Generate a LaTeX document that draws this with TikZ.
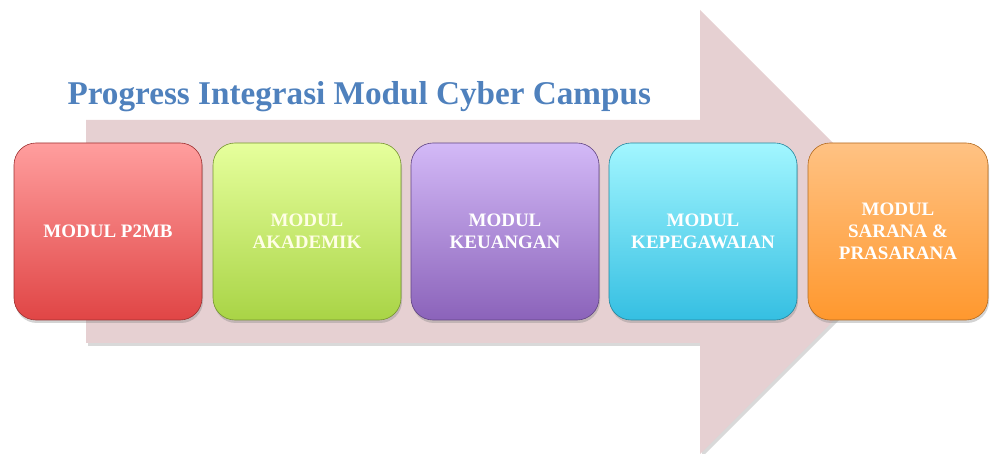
\documentclass[tikz,border=0pt]{standalone}
\usepackage{fontspec}
\setmainfont{Liberation Serif}
\usetikzlibrary{shadows}

\definecolor{arrowpink}{HTML}{E6D0D2}
\definecolor{titleblue}{HTML}{4F81BD}
\definecolor{redtop}{HTML}{FF9E9E}
\definecolor{redbot}{HTML}{E04545}
\definecolor{greentop}{HTML}{E6FF9C}
\definecolor{greenbot}{HTML}{A9D446}
\definecolor{violettop}{HTML}{D3B9F7}
\definecolor{violetbot}{HTML}{8B63BA}
\definecolor{cyantop}{HTML}{A2F6FF}
\definecolor{cyanbot}{HTML}{35BFE2}
\definecolor{orangetop}{HTML}{FFC283}
\definecolor{orangebot}{HTML}{FF982E}

\tikzset{
  modul/.style = {rounded corners = 22pt, minimum width = 188pt, minimum height = 177pt,
    top color = #1top, bottom color = #1bot, draw = #1bot!70!black, line width = 0.6pt,
    align = center, text = white,
    font = \fontsize{19}{22}\selectfont\bfseries,
    drop shadow = {opacity = 0.35, shadow xshift = 1pt, shadow yshift = -3pt}}
}

\begin{document}
\begin{tikzpicture}[x = 1pt, y = -1pt]
\useasboundingbox (0, 0) rectangle (991, 454);

% big arrow behind the modules
\fill [arrowpink, drop shadow = {opacity = 0.3, shadow xshift = 2pt, shadow yshift = -3pt}]
  (86, 120) -- (700, 120) -- (700, 10) -- (922, 232) -- (700, 454) -- (700, 343) -- (86, 343) -- cycle;

\node [anchor = base west, text = titleblue, font = \fontsize{33.2}{39}\selectfont\bfseries]
  (judul) at (64, 105) {Progress Integrasi Modul Cyber Campus};

\node [modul = red] (m1) at (108, 231.5) {MODUL P2MB};
\node [modul = green, text = yellow!10!white] (m2) at (307, 231.5) {MODUL\\AKADEMIK};
\node [modul = violet] (m3) at (505, 231.5) {MODUL\\KEUANGAN};
\node [modul = cyan] (m4) at (703, 231.5) {MODUL\\KEPEGAWAIAN};
\node [modul = orange, minimum width = 180pt] (m5) at (898, 231.5) {MODUL\\SARANA \&\\PRASARANA};
\end{tikzpicture}
\end{document}
